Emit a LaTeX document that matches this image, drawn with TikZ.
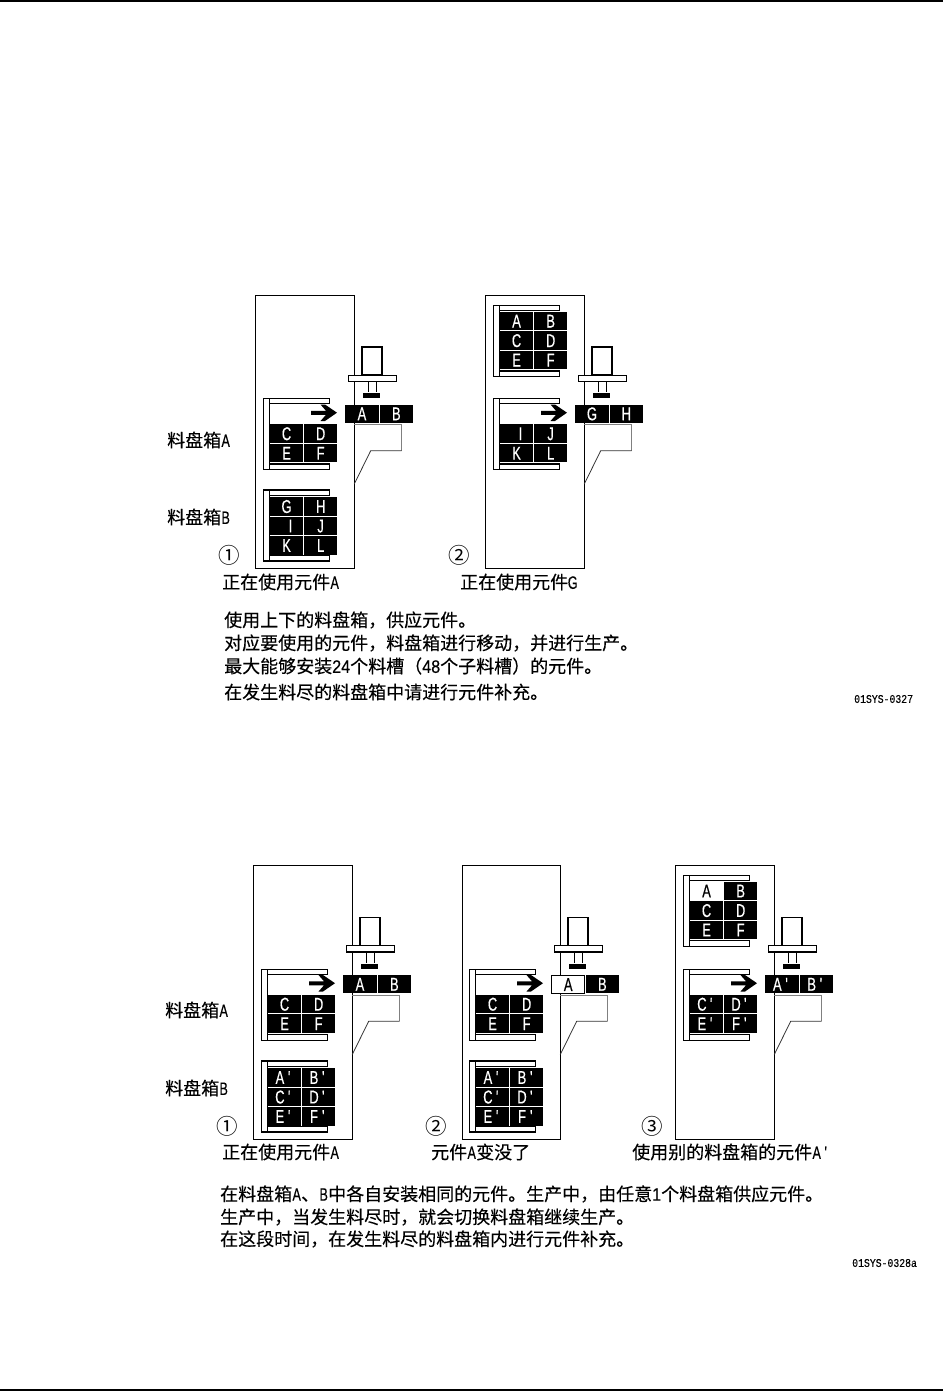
\documentclass[tikz,border=0pt]{standalone}
\usepackage{graphicx}
\usepackage{fontspec}
\newfontfamily\cjk[FakeBold=0.25]{Noto Sans CJK SC}
\newfontfamily\latf[FakeBold=0.5]{Liberation Sans}
\newfontfamily\monof[FakeBold=0.3]{Liberation Mono}
\newfontfamily\circf{Noto Sans CJK SC}
% half-width, condensed Latin characters as the picture prints them
\newcommand\hw[1]{\makebox[0.5em][c]{\scalebox{.7}[1]{\latf #1}}}
\newcommand\hd[1]{\makebox[0.5em][c]{\scalebox{.9}[1]{\latf #1}}}
\tikzset{
  cellblack/.style={fill=black,text=white,inner sep=0pt,minimum width=33.1pt,minimum height=18.4pt,text height=13pt,text depth=0pt,anchor=north west,font=\fontsize{18.5}{19}\selectfont},
  cellwhite/.style={cellblack,fill=white,text=black},
  cellframed/.style={cellblack,fill=white,text=black,draw=black,line width=.9pt},
  bodytxt/.style={anchor=west,inner sep=0pt,font=\cjk\fontsize{18}{20}\selectfont},
  circnum/.style={inner sep=0pt,font=\circf\fontsize{21.5}{24}\selectfont},
  codetxt/.style={anchor=west,inner sep=0pt,font=\monof\fontsize{9.8}{11}\selectfont},
  outline/.style={draw=black,line width=1.1pt},
  part/.style={draw=black,fill=white,line width=1.1pt},
  rule/.style={fill=black,draw=none},
  feedgray/.style={draw=black!50,line width=1pt},
  feeddark/.style={draw=black!80,line width=.8pt},
}
% one grid row of a cassette / the strip at the head
\newcommand\gridrow[6][cellblack]{%
  \node[#1] (#2l) at (269.8,#3) {#4};
  \node[cellblack] (#2r) at (303.9,#3) {#5#6};}
% frame of a cassette
\newcommand\frm[2]{%
  \path[part] (269.7,#2) rectangle (329.7,#2+5.2);
  \path[part] (269.7,#2+65.3) rectangle (329.7,#2+71);
  \path[part] (263.7,#2) rectangle (269.7,#2+71);
  \coordinate (#1) at (263.7,#2);}
% feeder body, mounting head, arrow and gray outline
\newcommand\head{%
  \path[part] (362,347) rectangle (382,375);
  \path[part] (348.3,375.2) rectangle (396.7,381.5);
  \draw[outline,line width=.9pt] (368.7,381.5) -- (368.7,392) (376,381.5) -- (376,392);
  \path[rule] (363,393) rectangle (380,398);
  \path[fill=black] (311,410.8) -- (326,410.8) -- (320.5,404.5) -- (325,404.5) -- (337,412.7) -- (325,421) -- (320.5,421) -- (326,414.8) -- (311,414.8) -- cycle;
  \coordinate (ga) at (354.3,424.6);
  \coordinate (gb) at (401.7,424.6);
  \coordinate (gc) at (401.7,450.7);
  \coordinate (gd) at (370.7,450.7);
  \coordinate (ge) at (354.3,484);
  \draw[feedgray] (ga) -- (gb) -- (gc);
  \draw[feeddark] (gc) -- (gd) -- (ge);}
\newcommand\stripc[3][cellblack]{%
  \node[#1] (sa) at (345.2,404.3) {#2};
  \node[cellblack] (sb) at (379.6,404.3) {#3};}
\newcommand\lA{\hw{A}}\newcommand\lB{\hw{B}}\newcommand\lC{\hw{C}}\newcommand\lD{\hw{D}}
\newcommand\lE{\hw{E}}\newcommand\lF{\hw{F}}
\newcommand\pr{\hw{'}}
\begin{document}
\begin{tikzpicture}[x=1pt,y=-1pt]
\useasboundingbox (0,0) rectangle (943,1391);
\path[rule] (0,0) rectangle (943,2);
\path[rule] (0,1388.5) rectangle (943,1390.5);

% ---------- upper figure, panel 1
\begin{scope}[name prefix=a1-]
  \draw[outline] (255.3,295.4) rectangle (354.3,568.3);
  \head
  \stripc{\hw{A}}{\hw{B}}
  \frm{ca}{398.7}
  \gridrow{r2}{424.2}{\lC}{\lD}{}
  \gridrow{r3}{443.7}{\lE}{\lF}{}
  \frm{cb}{490}
  \gridrow{s1}{497}{\hw{G}}{\hw{H}}{}
  \gridrow{s2}{516.5}{\hspace*{8pt}\hw{I}}{\hw{J}}{}
  \gridrow{s3}{536}{\hw{K}}{\hw{L}}{}
\end{scope}

% ---------- upper figure, panel 2
\begin{scope}[shift={(230,0)},name prefix=a2-]
  \draw[outline] (255.3,295.4) rectangle (354.3,568.3);
  \head
  \stripc{\hw{G}}{\hw{H}}
  \frm{cu}{305.7}
  \gridrow{u1}{311.6}{\lA}{\lB}{}
  \gridrow{u2}{331.1}{\lC}{\lD}{}
  \gridrow{u3}{350.6}{\lE}{\lF}{}
  \frm{ca}{398.7}
  \gridrow{r2}{424.2}{\hspace*{8pt}\hw{I}}{\hw{J}}{}
  \gridrow{r3}{443.7}{\hw{K}}{\hw{L}}{}
\end{scope}

% ---------- lower figure, panel 1
\begin{scope}[shift={(-2,570.5)},name prefix=b1-]
  \draw[outline] (255.3,295.2) rectangle (354.3,568.8);
  \head
  \stripc{\hw{A}}{\hw{B}}
  \frm{ca}{398.7}
  \gridrow{r2}{424.2}{\lC}{\lD}{}
  \gridrow{r3}{443.7}{\lE}{\lF}{}
  \frm{cb}{490.5}
  \gridrow{s1}{497.5}{\lA\pr}{\lB\pr}{}
  \gridrow{s2}{517}{\lC\pr}{\lD\pr}{}
  \gridrow{s3}{536.5}{\lE\pr}{\lF\pr}{}
\end{scope}

% ---------- lower figure, panel 2
\begin{scope}[shift={(206,570.5)},name prefix=b2-]
  \draw[outline] (256.3,295.2) rectangle (354.3,568.8);
  \head
  \stripc[cellframed]{\hw{A}}{\hw{B}}
  \frm{ca}{398.7}
  \gridrow{r2}{424.2}{\lC}{\lD}{}
  \gridrow{r3}{443.7}{\lE}{\lF}{}
  \frm{cb}{490.5}
  \gridrow{s1}{497.5}{\lA\pr}{\lB\pr}{}
  \gridrow{s2}{517}{\lC\pr}{\lD\pr}{}
  \gridrow{s3}{536.5}{\lE\pr}{\lF\pr}{}
\end{scope}

% ---------- lower figure, panel 3
\begin{scope}[shift={(420,570.5)},name prefix=b3-]
  \draw[outline] (255.3,295.2) rectangle (354.3,568.8);
  \head
  \stripc{\lA\pr}{\lB\pr}
  \frm{cu}{304.6}
  \gridrow[cellwhite]{u1}{311}{\lA}{\lB}{}
  \gridrow{u2}{330.5}{\lC}{\lD}{}
  \gridrow{u3}{350}{\lE}{\lF}{}
  \frm{ca}{398.7}
  \gridrow{r2}{424.2}{\lC\pr}{\lD\pr}{}
  \gridrow{r3}{443.7}{\lE\pr}{\lF\pr}{}
\end{scope}

% ---------- labels
\node[bodytxt] (la1) at (167,440) {料盘箱\hw{A}};
\node[bodytxt] (lb1) at (167,517) {料盘箱\hw{B}};
\node[bodytxt] (la2) at (165,1010) {料盘箱\hw{A}};
\node[bodytxt] (lb2) at (165,1088) {料盘箱\hw{B}};
\node[circnum] (n1) at (229,555) {①};
\node[circnum] (n2) at (459,555) {②};
\node[circnum] (n3) at (227,1126) {①};
\node[circnum] (n4) at (436,1126) {②};
\node[circnum] (n5) at (652.5,1126) {③};
\node[bodytxt] (c1) at (222,582) {正在使用元件\hw{A}};
\node[bodytxt] (c2) at (460,582) {正在使用元件\hw{G}};
\node[bodytxt] (c3) at (222,1152) {正在使用元件\hw{A}};
\node[bodytxt] (c4) at (431,1152) {元件\hw{A}变没了};
\node[bodytxt] (c5) at (632,1152) {使用别的料盘箱的元件\hw{A}\hw{'}};

\node[bodytxt] (t1) at (224,620) {使用上下的料盘箱，供应元件。};
\node[bodytxt] (t2) at (224,643) {对应要使用的元件，料盘箱进行移动，并进行生产。};
\node[bodytxt] (t3) at (224,666) {最大能够安装\hd{2}\hd{4}个料槽（\hd{4}\hd{8}个子料槽）的元件。};
\node[bodytxt] (t4) at (224,692) {在发生料尽的料盘箱中请进行元件补充。};
\node[bodytxt] (t5) at (220,1194) {在料盘箱\hw{A}、\hw{B}中各自安装相同的元件。生产中，由任意\hd{1}个料盘箱供应元件。};
\node[bodytxt] (t6) at (220,1217) {生产中，当发生料尽时，就会切换料盘箱继续生产。};
\node[bodytxt] (t7) at (220,1239) {在这段时间，在发生料尽的料盘箱内进行元件补充。};
\node[codetxt] (k1) at (854,699) {\scalebox{1}[1.2]{01SYS-0327}};
\node[codetxt] (k2) at (852,1263) {\scalebox{1}[1.2]{01SYS-0328a}};
\end{tikzpicture}
\end{document}
